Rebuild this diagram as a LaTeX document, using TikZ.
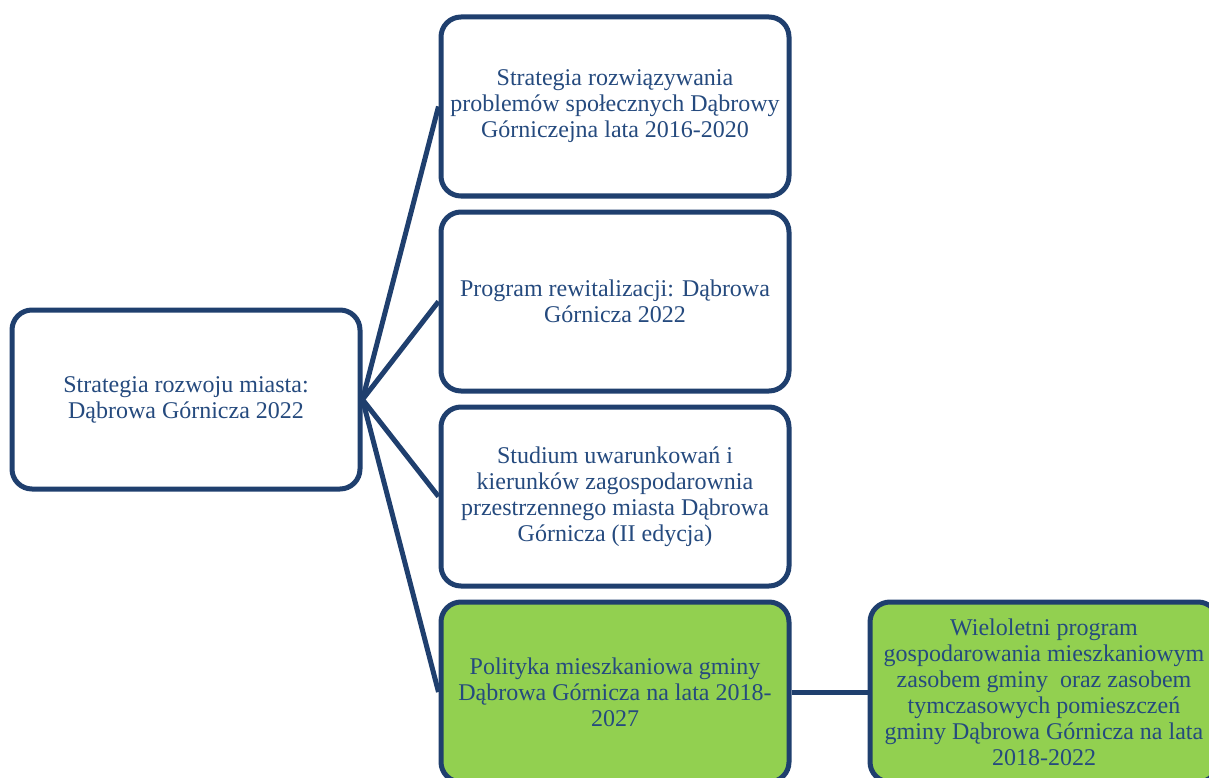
\documentclass[tikz,border=0pt]{standalone}
\usepackage{fontspec}
\setmainfont{Liberation Serif}
\definecolor{bordc}{HTML}{1F3F6E}
\definecolor{textc}{HTML}{254A7E}
\definecolor{greenc}{HTML}{92D050}
\begin{document}
\begin{tikzpicture}[x=1pt,y=-1pt,
  box/.style={rectangle, draw=bordc, line width=5pt, rounded corners=20pt,
    minimum width=348pt, minimum height=179pt, inner sep=0pt, fill=white,
    text=textc, align=center, font=\fontsize{24}{26}\selectfont},
  gbox/.style={box, fill=greenc},
  link/.style={draw=bordc, line width=5pt}]
\useasboundingbox (0,0) rectangle (1209,778);
\clip (0,0) rectangle (1209,778);
\node[box] (L) at (186,399.5) {Strategia rozwoju miasta:\\Dąbrowa Górnicza 2022};
\node[box] (A) at (615,106.5) {Strategia rozwiązywania\\problemów społecznych Dąbrowy\\Górniczejna lata 2016-2020};
\node[box] (B) at (615,301.5) {Program rewitalizacji: Dąbrowa\\Górnicza 2022};
\node[box] (C) at (615,496.5) {Studium uwarunkowań i\\kierunków zagospodarownia\\przestrzennego miasta Dąbrowa\\Górnicza (II edycja)};
\node[gbox, minimum height=180pt] (D) at (615,692) {Polityka mieszkaniowa gminy\\Dąbrowa Górnicza na lata 2018-\\2027};
\node[gbox, minimum height=180pt] (E) at (1044,692) {Wieloletni program\\gospodarowania mieszkaniowym\\zasobem gminy\ \ oraz zasobem\\tymczasowych pomieszczeń\\gminy Dąbrowa Górnicza na lata\\2018-2022};
\draw[link] (L.east) -- (A.west);
\draw[link] (L.east) -- (B.west);
\draw[link] (L.east) -- (C.west);
\draw[link] (L.east) -- (D.west);
\draw[link] (D.east) -- (E.west);
\end{tikzpicture}
\end{document}
